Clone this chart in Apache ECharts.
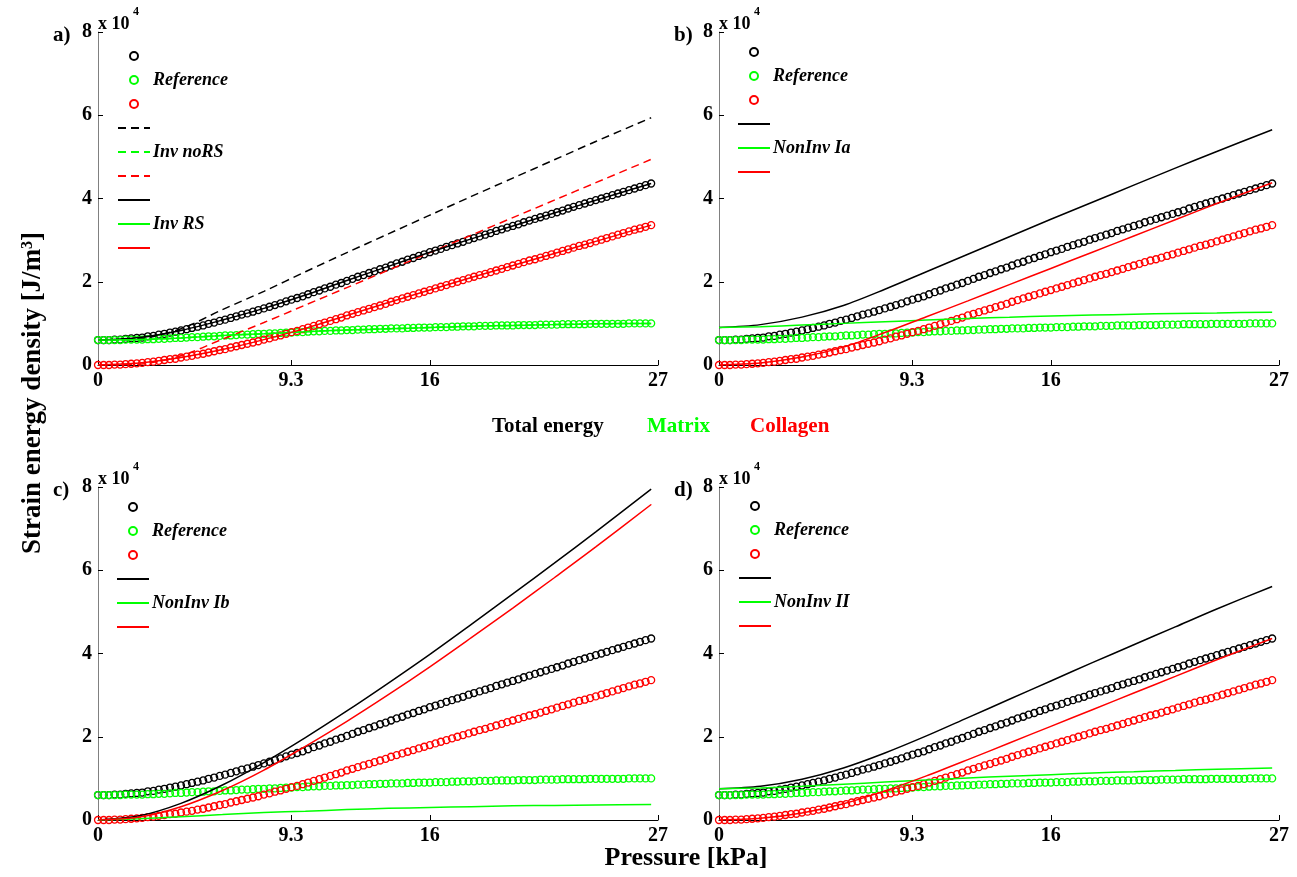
<!DOCTYPE html>
<html>
<head>
<meta charset="utf-8">
<script src="https://cdn.jsdelivr.net/npm/echarts@6/dist/echarts.min.js"></script>
<style>
  html, body { margin: 0; background: #ffffff; }
  #chart { width: 1297px; height: 877px; }
</style>
</head>
<body>
<div id="chart"></div>
<script>
// pressure in kPa (0 .. 200 mmHg, every 2 mmHg)
const pressure = [
  0, 0.27, 0.53, 0.8, 1.07, 1.33, 1.6, 1.87, 2.13, 2.4, 2.67, 2.93, 3.2, 3.47, 3.73,
  4, 4.27, 4.53, 4.8, 5.07, 5.33, 5.6, 5.87, 6.13, 6.4, 6.67, 6.93, 7.2, 7.47, 7.73,
  8, 8.27, 8.53, 8.8, 9.07, 9.33, 9.6, 9.87, 10.13, 10.4, 10.67, 10.93, 11.2, 11.47, 11.73,
  12, 12.27, 12.53, 12.8, 13.07, 13.33, 13.6, 13.87, 14.13, 14.4, 14.67, 14.93, 15.2, 15.47, 15.73,
  16, 16.27, 16.53, 16.8, 17.07, 17.33, 17.6, 17.87, 18.13, 18.4, 18.67, 18.93, 19.2, 19.47, 19.73,
  20, 20.27, 20.53, 20.8, 21.07, 21.33, 21.6, 21.87, 22.13, 22.4, 22.67, 22.93, 23.2, 23.47, 23.73,
  24, 24.27, 24.53, 24.8, 25.07, 25.33, 25.6, 25.87, 26.13, 26.4, 26.67
]

// reference energies, x 10^4 J/m3
const refTotal = [
  0.60, 0.60, 0.60, 0.61, 0.61, 0.63, 0.64, 0.65, 0.66, 0.69,
  0.70, 0.73, 0.75, 0.78, 0.80, 0.83, 0.86, 0.89, 0.92, 0.95,
  0.99, 1.02, 1.06, 1.09, 1.13, 1.17, 1.21, 1.24, 1.28, 1.32,
  1.36, 1.40, 1.44, 1.48, 1.53, 1.57, 1.61, 1.65, 1.70, 1.75,
  1.79, 1.84, 1.88, 1.93, 1.97, 2.02, 2.07, 2.12, 2.16, 2.21,
  2.25, 2.30, 2.34, 2.39, 2.44, 2.48, 2.53, 2.57, 2.62, 2.66,
  2.71, 2.75, 2.79, 2.84, 2.88, 2.92, 2.96, 3.01, 3.05, 3.09,
  3.13, 3.17, 3.22, 3.26, 3.30, 3.34, 3.38, 3.43, 3.47, 3.51,
  3.55, 3.59, 3.63, 3.67, 3.71, 3.76, 3.80, 3.84, 3.88, 3.92,
  3.96, 4.00, 4.04, 4.08, 4.12, 4.16, 4.20, 4.24, 4.28, 4.32,
  4.36
]
const refMatrix = [
  0.60, 0.60, 0.60, 0.60, 0.60, 0.61, 0.61, 0.61, 0.61, 0.62,
  0.62, 0.63, 0.63, 0.64, 0.65, 0.65, 0.66, 0.67, 0.67, 0.68,
  0.69, 0.69, 0.70, 0.71, 0.71, 0.72, 0.73, 0.73, 0.74, 0.75,
  0.75, 0.76, 0.76, 0.77, 0.78, 0.78, 0.79, 0.79, 0.80, 0.81,
  0.81, 0.82, 0.82, 0.83, 0.83, 0.84, 0.84, 0.85, 0.85, 0.86,
  0.86, 0.87, 0.87, 0.88, 0.88, 0.88, 0.89, 0.89, 0.90, 0.90,
  0.90, 0.91, 0.91, 0.91, 0.92, 0.92, 0.93, 0.93, 0.93, 0.94,
  0.94, 0.94, 0.95, 0.95, 0.95, 0.95, 0.96, 0.96, 0.96, 0.96,
  0.97, 0.97, 0.97, 0.97, 0.98, 0.98, 0.98, 0.98, 0.98, 0.99,
  0.99, 0.99, 0.99, 0.99, 0.99, 0.99, 1.00, 1.00, 1.00, 1.00,
  1.00
]
const refCollagen = [
  0.00, 0.00, 0.00, 0.01, 0.01, 0.02, 0.03, 0.04, 0.05, 0.07,
  0.08, 0.10, 0.12, 0.14, 0.15, 0.18, 0.20, 0.22, 0.25, 0.27,
  0.30, 0.33, 0.36, 0.38, 0.42, 0.45, 0.48, 0.51, 0.54, 0.57,
  0.61, 0.64, 0.68, 0.71, 0.75, 0.79, 0.82, 0.86, 0.90, 0.94,
  0.98, 1.02, 1.06, 1.10, 1.14, 1.19, 1.23, 1.27, 1.31, 1.35,
  1.39, 1.43, 1.47, 1.52, 1.56, 1.60, 1.64, 1.68, 1.72, 1.76,
  1.80, 1.84, 1.88, 1.92, 1.96, 2.00, 2.04, 2.08, 2.12, 2.16,
  2.19, 2.23, 2.27, 2.31, 2.35, 2.39, 2.43, 2.47, 2.51, 2.54,
  2.58, 2.62, 2.66, 2.70, 2.74, 2.78, 2.82, 2.86, 2.89, 2.93,
  2.97, 3.01, 3.05, 3.09, 3.13, 3.17, 3.21, 3.25, 3.28, 3.32,
  3.36
]

// model curves
const linePressure = [0, 2, 4, 6, 8, 10, 12, 14, 16, 18, 20, 22, 24, 26.67]

const aNoRSTotal = [0.60, 0.63, 0.87, 1.33, 1.77, 2.24, 2.70, 3.15, 3.60, 4.05, 4.49, 4.93, 5.37, 5.94]
const aNoRSMatrix = [0.60, 0.61, 0.65, 0.71, 0.75, 0.80, 0.84, 0.87, 0.90, 0.93, 0.95, 0.97, 0.99, 1.00]
const aNoRSCollagen = [0.00, 0.02, 0.22, 0.62, 1.02, 1.44, 1.86, 2.28, 2.70, 3.12, 3.54, 3.96, 4.38, 4.94]
const aRSTotal = [0.60, 0.66, 0.83, 1.08, 1.36, 1.68, 2.03, 2.37, 2.71, 3.03, 3.34, 3.65, 3.96, 4.36]
const aRSMatrix = [0.60, 0.61, 0.65, 0.71, 0.75, 0.80, 0.84, 0.87, 0.90, 0.93, 0.95, 0.97, 0.99, 1.00]
const aRSCollagen = [0.00, 0.05, 0.18, 0.37, 0.61, 0.88, 1.19, 1.50, 1.80, 2.10, 2.39, 2.68, 2.97, 3.36]

const bTotal = [0.90, 0.97, 1.15, 1.43, 1.82, 2.24, 2.66, 3.08, 3.50, 3.91, 4.32, 4.73, 5.13, 5.65]
const bMatrix = [0.90, 0.92, 0.96, 1.00, 1.04, 1.08, 1.12, 1.15, 1.18, 1.20, 1.22, 1.24, 1.25, 1.27]
const bCollagen = [0.00, 0.05, 0.19, 0.43, 0.78, 1.16, 1.54, 1.93, 2.32, 2.71, 3.10, 3.49, 3.88, 4.38]

const cTotal = [0.00, 0.10, 0.40, 0.84, 1.38, 1.98, 2.62, 3.29, 3.98, 4.70, 5.43, 6.17, 6.92, 7.95]
const cMatrix = [0.00, 0.03, 0.08, 0.13, 0.18, 0.21, 0.25, 0.28, 0.30, 0.32, 0.34, 0.35, 0.36, 0.37]
const cCollagen = [0.00, 0.07, 0.32, 0.71, 1.20, 1.77, 2.37, 3.01, 3.68, 4.38, 5.09, 5.82, 6.56, 7.58]

const dTotal = [0.75, 0.81, 0.98, 1.25, 1.61, 2.02, 2.46, 2.90, 3.34, 3.78, 4.21, 4.64, 5.07, 5.61]
const dMatrix = [0.75, 0.77, 0.81, 0.86, 0.91, 0.96, 1.01, 1.05, 1.09, 1.13, 1.16, 1.19, 1.22, 1.25]
const dCollagen = [0.00, 0.04, 0.17, 0.39, 0.70, 1.06, 1.45, 1.85, 2.25, 2.65, 3.05, 3.45, 3.85, 4.36]

const xTicks = [0, 9.3, 16, 27]
const panelLabels = ['a)', 'b)', 'c)', 'd)']

const FONT = 'Liberation Serif'
const BLACK = '#000000'
const GREEN = '#00ff00'
const RED = '#ff0000'

const myChart = echarts.init(document.getElementById('chart'))

function pairs (xs, ys) {
  return xs.map((x, i) => [x, ys[i]])
}

// panel layout
const panels = [
  { left: 98, top: 32, legendLeft: 117, legendTop: 44 },
  { left: 719, top: 32, legendLeft: 737, legendTop: 40 },
  { left: 98, top: 487, legendLeft: 116, legendTop: 495 },
  { left: 719, top: 487, legendLeft: 738, legendTop: 494 }
]

// model lines per panel: [name, values, color, dashed]
const models = [
  [
    ['a total noRS', aNoRSTotal, BLACK, true],
    ['a matrix noRS', aNoRSMatrix, GREEN, true],
    ['a collagen noRS', aNoRSCollagen, RED, true],
    ['a total RS', aRSTotal, BLACK, false],
    ['a matrix RS', aRSMatrix, GREEN, false],
    ['a collagen RS', aRSCollagen, RED, false]
  ],
  [
    ['b total', bTotal, BLACK, false],
    ['b matrix', bMatrix, GREEN, false],
    ['b collagen', bCollagen, RED, false]
  ],
  [
    ['c total', cTotal, BLACK, false],
    ['c matrix', cMatrix, GREEN, false],
    ['c collagen', cCollagen, RED, false]
  ],
  [
    ['d total', dTotal, BLACK, false],
    ['d matrix', dMatrix, GREEN, false],
    ['d collagen', dCollagen, RED, false]
  ]
]

const legendText = {
  'Matrix ref': 'Reference',
  'a matrix noRS': 'Inv noRS',
  'a matrix RS': 'Inv RS',
  'b matrix': 'NonInv Ia',
  'c matrix': 'NonInv Ib',
  'd matrix': 'NonInv II'
}

const refs = [
  ['Total ref', refTotal, BLACK],
  ['Matrix ref', refMatrix, GREEN],
  ['Collagen ref', refCollagen, RED]
]

const grid = []
const xAxis = []
const yAxis = []
const series = []
const legend = []
const graphic = []

panels.forEach(function (p, k) {
  grid.push({ left: p.left, top: p.top, width: 560, height: 333 })

  xAxis.push({
    gridIndex: k,
    type: 'value',
    min: 0,
    max: 27,
    axisLine: { lineStyle: { color: BLACK, width: 1 } },
    axisTick: { inside: true, length: 5, customValues: xTicks, lineStyle: { color: BLACK } },
    axisLabel: { customValues: xTicks, fontFamily: FONT, fontWeight: 'bold', fontSize: 20, color: BLACK, margin: 6 },
    splitLine: { show: false }
  })
  yAxis.push({
    gridIndex: k,
    type: 'value',
    min: 0,
    max: 8,
    interval: 2,
    axisLine: { show: true, lineStyle: { color: '#808080', width: 1 } },
    axisTick: { show: true, inside: true, length: 5, lineStyle: { color: BLACK } },
    axisLabel: { fontFamily: FONT, fontWeight: 'bold', fontSize: 20, color: BLACK, margin: 6 },
    splitLine: { show: false }
  })

  refs.forEach(function (r) {
    series.push({
      name: r[0],
      type: 'scatter',
      xAxisIndex: k,
      yAxisIndex: k,
      symbol: 'circle',
      symbolSize: 7,
      itemStyle: { color: 'rgba(0,0,0,0)', borderColor: r[2], borderWidth: 1.3, opacity: 1 },
      data: pairs(pressure, r[1])
    })
  })

  models[k].forEach(function (m) {
    series.push({
      name: m[0],
      type: 'line',
      xAxisIndex: k,
      yAxisIndex: k,
      symbol: 'none',
      showSymbol: false,
      smooth: 0.3,
      itemStyle: { color: m[2] },
      lineStyle: { color: m[2], width: 1.5, type: m[3] ? [8, 5] : 'solid' },
      data: pairs(linePressure, m[1])
    })
  })

  // line entries get a plain line icon, no dot
  const lineItems = models[k].map(m => ({
    name: m[0],
    itemStyle: { color: 'rgba(0,0,0,0)', borderWidth: 0, borderColor: 'rgba(0,0,0,0)' }
  }))

  legend.push({
    left: p.legendLeft,
    top: p.legendTop,
    orient: 'vertical',
    padding: 0,
    itemGap: 0,
    itemWidth: 32,
    itemHeight: 8,
    selectedMode: false,
    data: refs.map(r => ({ name: r[0] })).concat(lineItems),
    formatter: function (name) {
      return legendText[name] || ' '
    },
    textStyle: {
      fontFamily: FONT,
      fontStyle: 'italic',
      fontWeight: 'bold',
      fontSize: 18,
      color: BLACK,
      lineHeight: 24,
      padding: [0, 0, 0, -2]
    }
  })

  // panel letter and the x 10^4 multiplier
  graphic.push({
    type: 'text',
    x: p.left - 45,
    y: p.top + 4,
    style: { text: panelLabels[k], font: 'bold 21px ' + FONT, fill: BLACK, align: 'left', verticalAlign: 'middle' }
  })
  graphic.push({
    type: 'text',
    x: p.left,
    y: p.top - 8,
    style: { text: 'x 10', font: 'bold 18px ' + FONT, fill: BLACK, align: 'left', verticalAlign: 'middle' }
  })
  graphic.push({
    type: 'text',
    x: p.left + 35,
    y: p.top - 20,
    style: { text: '4', font: 'bold 12px ' + FONT, fill: BLACK, align: 'left', verticalAlign: 'middle' }
  })
})

// shared colour key and axis titles
graphic.push(
  { type: 'text', x: 492, y: 427, style: { text: 'Total energy', font: 'bold 21px ' + FONT, fill: BLACK, align: 'left', verticalAlign: 'middle' } },
  { type: 'text', x: 647, y: 427, style: { text: 'Matrix', font: 'bold 21px ' + FONT, fill: GREEN, align: 'left', verticalAlign: 'middle' } },
  { type: 'text', x: 750, y: 427, style: { text: 'Collagen', font: 'bold 21px ' + FONT, fill: RED, align: 'left', verticalAlign: 'middle' } },
  { type: 'text', x: 686, y: 858, style: { text: 'Pressure [kPa]', font: 'bold 26px ' + FONT, fill: BLACK, align: 'center', verticalAlign: 'middle' } },
  {
    type: 'text',
    x: 33,
    y: 393,
    rotation: Math.PI / 2,
    style: {
      text: 'Strain energy density [J/m{s|3}]',
      font: 'bold 27px ' + FONT,
      fill: BLACK,
      align: 'center',
      verticalAlign: 'middle',
      rich: { s: { fontFamily: FONT, fontWeight: 'bold', fontSize: 16, verticalAlign: 'top', fill: BLACK } }
    }
  }
)

const option = {
  animation: false,
  backgroundColor: '#ffffff',
  grid: grid,
  xAxis: xAxis,
  yAxis: yAxis,
  legend: legend,
  series: series,
  graphic: graphic
}
myChart.setOption(option)
</script>
</body>
</html>
